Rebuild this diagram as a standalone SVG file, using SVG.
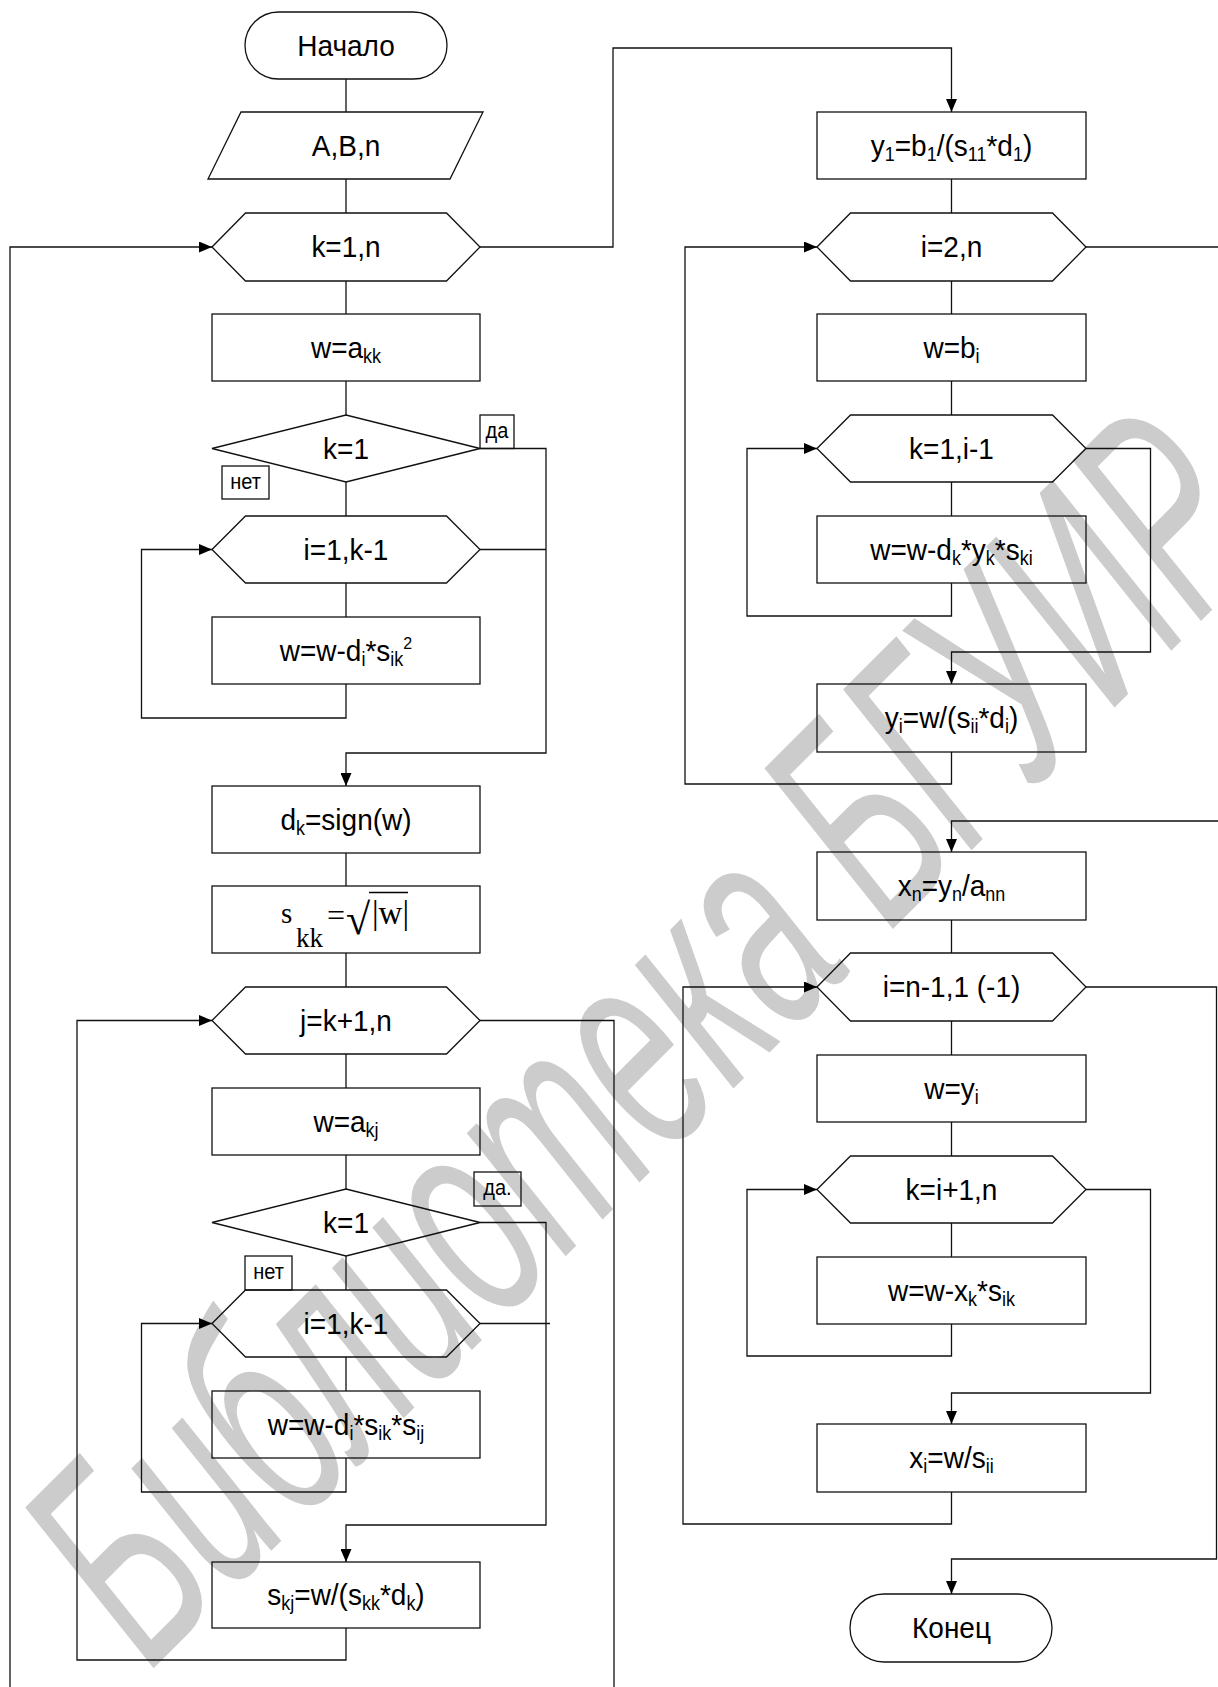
<svg xmlns="http://www.w3.org/2000/svg" width="1218" height="1687" viewBox="0 0 1218 1687">
<defs>
<marker id="arr" markerUnits="userSpaceOnUse" markerWidth="13" markerHeight="11" refX="13" refY="5.5" orient="auto">
<path d="M0,0 L13,5.5 L0,11 z" fill="#000"/>
</marker>
<style>
.sh{fill:none;stroke:#111;stroke-width:1.3}
.c{fill:none;stroke:#111;stroke-width:1.3}
.t{font-family:"Liberation Sans",Arial,sans-serif;font-size:28px;text-anchor:middle;fill:#000}
.s{font-size:18px}
.p{font-size:16px}
.l{font-family:"Liberation Sans",Arial,sans-serif;font-size:20px;text-anchor:middle;fill:#000}
.m{font-family:"Liberation Serif","Times New Roman",serif;fill:#000}
.wm{font-family:"Liberation Sans",Arial,sans-serif;font-style:italic;fill:#cccccc}
</style>
</defs>
<rect width="1218" height="1687" fill="#fff"/>
<text class="wm" font-size="205" transform="translate(150,1672) rotate(-45) scale(1,1.45)" textLength="1595" lengthAdjust="spacingAndGlyphs">Библиотека БГУИР</text>

<g id="connectors">
<path class="c" d="M346,79 V112 M346,179 V213 M346,281 V314 M346,381 V415 M346,482 V516 M346,583 V617"/>
<path class="c" d="M346,684 V718 H141.5 V549.5 H212" marker-end="url(#arr)"/>
<path class="c" d="M480,448.5 H546 V753 H346 V786" marker-end="url(#arr)"/>
<path class="c" d="M480,549.5 H546"/>
<path class="c" d="M346,853 V886 M346,953 V987 M346,1054 V1088 M346,1155 V1189 M346,1256 V1290 M346,1357 V1391"/>
<path class="c" d="M346,1458 V1492 H141.5 V1323.5 H212" marker-end="url(#arr)"/>
<path class="c" d="M480,1222.5 H546 V1525 H346 V1562" marker-end="url(#arr)"/>
<path class="c" d="M480,1323.5 H550"/>
<path class="c" d="M346,1628 V1660 H77 V1020.5 H212" marker-end="url(#arr)"/>
<path class="c" d="M480,1020.5 H614 V1687"/>
<path class="c" d="M10,1687 V247 H212" marker-end="url(#arr)"/>
<path class="c" d="M480,247 H613 V48 H951.5 V112" marker-end="url(#arr)"/>
<path class="c" d="M951.5,179 V213 M951.5,281 V314 M951.5,381 V415 M951.5,482 V516"/>
<path class="c" d="M1086,247 H1218"/>
<path class="c" d="M951.5,583 V616 H747 V448.5 H817" marker-end="url(#arr)"/>
<path class="c" d="M1086,448.5 H1150.5 V652 H951.5 V684" marker-end="url(#arr)"/>
<path class="c" d="M951.5,752 V784 H685 V247 H817" marker-end="url(#arr)"/>
<path class="c" d="M1218,821 H951.5 V852" marker-end="url(#arr)"/>
<path class="c" d="M951.5,920 V953 M951.5,1021 V1055 M951.5,1122 V1156 M951.5,1223 V1257"/>
<path class="c" d="M1086,987 H1216.5 V1559 H951.5 V1594" marker-end="url(#arr)"/>
<path class="c" d="M1086,1189.5 H1150.5 V1393 H951.5 V1424" marker-end="url(#arr)"/>
<path class="c" d="M951.5,1324 V1356 H747 V1189.5 H817" marker-end="url(#arr)"/>
<path class="c" d="M951.5,1492 V1524 H683 V987 H817" marker-end="url(#arr)"/>
</g>

<g id="start"><rect class="sh" x="245" y="12" width="202" height="67" rx="33.5"/><text class="t" transform="translate(346,55.5) scale(1,1.08)">Начало</text></g>
<g id="input"><polygon class="sh" points="241,112 483,112 450,179 208,179"/><text class="t" transform="translate(346,155.5) scale(1,1.08)">A,B,n</text></g>
<g id="loop_k"><polygon class="sh" points="212,247 245.5,213 446.5,213 480,247 446.5,281 245.5,281"/><text class="t" transform="translate(346,257) scale(1,1.08)">k=1,n</text></g>
<g id="w_akk"><rect class="sh" x="212" y="314" width="268" height="67"/><text class="t" transform="translate(346,357.5) scale(1,1.08)">w=a<tspan class="s" dy="5">kk</tspan></text></g>
<g id="cond1"><polygon class="sh" points="212,448.5 346,415 480,448.5 346,482"/><text class="t" transform="translate(346,458.5) scale(1,1.08)">k=1</text>
<rect class="sh" x="480" y="415" width="34" height="33.5"/><text class="l" transform="translate(497,438) scale(1,1.1)">да</text>
<rect class="sh" x="222" y="466" width="47" height="33"/><text class="l" transform="translate(245.5,489) scale(1,1.1)">нет</text></g>
<g id="loop_i1"><polygon class="sh" points="212,549.5 245.5,516 446.5,516 480,549.5 446.5,583 245.5,583"/><text class="t" transform="translate(346,559.5) scale(1,1.08)">i=1,k-1</text></g>
<g id="w_upd1"><rect class="sh" x="212" y="617" width="268" height="67"/><text class="t" transform="translate(346,660.5) scale(1,1.08)">w=w-d<tspan class="s" dy="5">i</tspan><tspan dy="-5">*s</tspan><tspan class="s" dy="5">ik</tspan><tspan class="p" dy="-16">2</tspan></text></g>
<g id="dk"><rect class="sh" x="212" y="786" width="268" height="67"/><text class="t" transform="translate(346,829.5) scale(1,1.08)">d<tspan class="s" dy="5">k</tspan><tspan dy="-5">=sign(w)</tspan></text></g>
<g id="skk"><rect class="sh" x="212" y="886" width="268" height="67"/>
<text class="m" x="281" y="923" font-size="29">s</text>
<text class="m" x="296" y="947" font-size="27">kk</text>
<text class="m" x="327" y="926" font-size="32">=</text>
<text class="m" x="346" y="934" font-size="44">√</text>
<line x1="369" y1="892.5" x2="408" y2="892.5" stroke="#000" stroke-width="1.3"/>
<text class="m" x="372" y="924" font-size="33">|w|</text></g>
<g id="loop_j"><polygon class="sh" points="212,1020.5 245.5,987 446.5,987 480,1020.5 446.5,1054 245.5,1054"/><text class="t" transform="translate(346,1030.5) scale(1,1.08)">j=k+1,n</text></g>
<g id="w_akj"><rect class="sh" x="212" y="1088" width="268" height="67"/><text class="t" transform="translate(346,1131.5) scale(1,1.08)">w=a<tspan class="s" dy="5">kj</tspan></text></g>
<g id="cond2"><polygon class="sh" points="212,1222.5 346,1189 480,1222.5 346,1256"/><text class="t" transform="translate(346,1232.5) scale(1,1.08)">k=1</text>
<rect class="sh" x="474" y="1172" width="47" height="34"/><text class="l" transform="translate(497.5,1195) scale(1,1.1)">да.</text>
<rect class="sh" x="245" y="1256" width="47" height="34"/><text class="l" transform="translate(268.5,1279) scale(1,1.1)">нет</text></g>
<g id="loop_i2"><polygon class="sh" points="212,1323.5 245.5,1290 446.5,1290 480,1323.5 446.5,1357 245.5,1357"/><text class="t" transform="translate(346,1333.5) scale(1,1.08)">i=1,k-1</text></g>
<g id="w_upd2"><rect class="sh" x="212" y="1391" width="268" height="67"/><text class="t" transform="translate(346,1434.5) scale(1,1.08)">w=w-d<tspan class="s" dy="5">i</tspan><tspan dy="-5">*s</tspan><tspan class="s" dy="5">ik</tspan><tspan dy="-5">*s</tspan><tspan class="s" dy="5">ij</tspan></text></g>
<g id="skj"><rect class="sh" x="212" y="1562" width="268" height="66"/><text class="t" transform="translate(346,1605) scale(1,1.08)">s<tspan class="s" dy="5">kj</tspan><tspan dy="-5">=w/(s</tspan><tspan class="s" dy="5">kk</tspan><tspan dy="-5">*d</tspan><tspan class="s" dy="5">k</tspan><tspan dy="-5">)</tspan></text></g>

<g id="y1"><rect class="sh" x="817" y="112" width="269" height="67"/><text class="t" transform="translate(951.5,155.5) scale(1,1.08)">y<tspan class="s" dy="5">1</tspan><tspan dy="-5">=b</tspan><tspan class="s" dy="5">1</tspan><tspan dy="-5">/(s</tspan><tspan class="s" dy="5">11</tspan><tspan dy="-5">*d</tspan><tspan class="s" dy="5">1</tspan><tspan dy="-5">)</tspan></text></g>
<g id="loop_i3"><polygon class="sh" points="817,247 850.5,213 1052.5,213 1086,247 1052.5,281 850.5,281"/><text class="t" transform="translate(951.5,257) scale(1,1.08)">i=2,n</text></g>
<g id="w_bi"><rect class="sh" x="817" y="314" width="269" height="67"/><text class="t" transform="translate(951.5,357.5) scale(1,1.08)">w=b<tspan class="s" dy="5">i</tspan></text></g>
<g id="loop_k2"><polygon class="sh" points="817,448.5 850.5,415 1052.5,415 1086,448.5 1052.5,482 850.5,482"/><text class="t" transform="translate(951.5,458.5) scale(1,1.08)">k=1,i-1</text></g>
<g id="w_upd3"><rect class="sh" x="817" y="516" width="269" height="67"/><text class="t" transform="translate(951.5,559.5) scale(1,1.08)">w=w-d<tspan class="s" dy="5">k</tspan><tspan dy="-5">*y</tspan><tspan class="s" dy="5">k</tspan><tspan dy="-5">*s</tspan><tspan class="s" dy="5">ki</tspan></text></g>
<g id="yi"><rect class="sh" x="817" y="684" width="269" height="68"/><text class="t" transform="translate(951.5,728) scale(1,1.08)">y<tspan class="s" dy="5">i</tspan><tspan dy="-5">=w/(s</tspan><tspan class="s" dy="5">ii</tspan><tspan dy="-5">*d</tspan><tspan class="s" dy="5">i</tspan><tspan dy="-5">)</tspan></text></g>
<g id="xn"><rect class="sh" x="817" y="852" width="269" height="68"/><text class="t" transform="translate(951.5,896) scale(1,1.08)">x<tspan class="s" dy="5">n</tspan><tspan dy="-5">=y</tspan><tspan class="s" dy="5">n</tspan><tspan dy="-5">/a</tspan><tspan class="s" dy="5">nn</tspan></text></g>
<g id="loop_i4"><polygon class="sh" points="817,987 850.5,953 1052.5,953 1086,987 1052.5,1021 850.5,1021"/><text class="t" transform="translate(951.5,997) scale(1,1.08)">i=n-1,1 (-1)</text></g>
<g id="w_yi"><rect class="sh" x="817" y="1055" width="269" height="67"/><text class="t" transform="translate(951.5,1098.5) scale(1,1.08)">w=y<tspan class="s" dy="5">i</tspan></text></g>
<g id="loop_k3"><polygon class="sh" points="817,1189.5 850.5,1156 1052.5,1156 1086,1189.5 1052.5,1223 850.5,1223"/><text class="t" transform="translate(951.5,1199.5) scale(1,1.08)">k=i+1,n</text></g>
<g id="w_upd4"><rect class="sh" x="817" y="1257" width="269" height="67"/><text class="t" transform="translate(951.5,1300.5) scale(1,1.08)">w=w-x<tspan class="s" dy="5">k</tspan><tspan dy="-5">*s</tspan><tspan class="s" dy="5">ik</tspan></text></g>
<g id="xi"><rect class="sh" x="817" y="1424" width="269" height="68"/><text class="t" transform="translate(951.5,1468) scale(1,1.08)">x<tspan class="s" dy="5">i</tspan><tspan dy="-5">=w/s</tspan><tspan class="s" dy="5">ii</tspan></text></g>
<g id="end"><rect class="sh" x="850" y="1594" width="202" height="68" rx="34"/><text class="t" transform="translate(951.5,1638) scale(1,1.08)">Конец</text></g>
</svg>
